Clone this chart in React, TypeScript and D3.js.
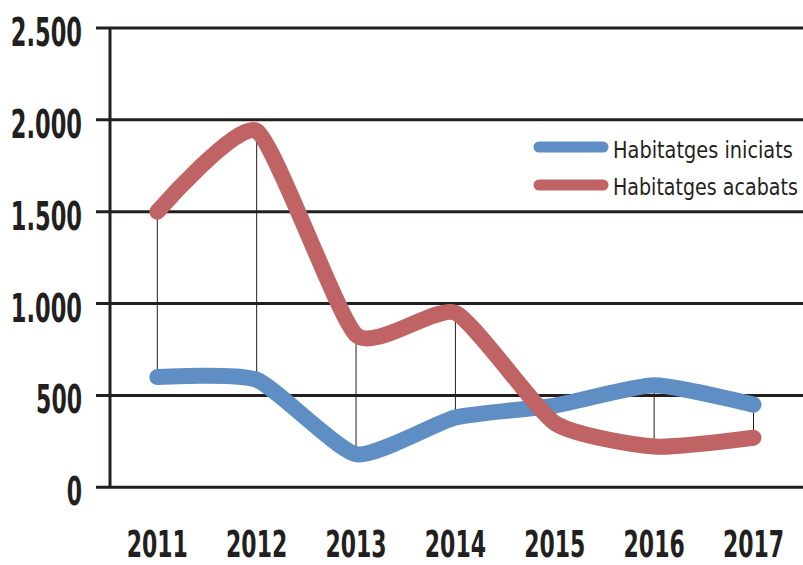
import React, { useLayoutEffect, useRef, useState } from "react";
import * as d3 from "d3";

const years = ["2011", "2012", "2013", "2014", "2015", "2016", "2017"];
const iniciats = [600, 585, 180, 380, 445, 555, 450];
const acabats = [1500, 1940, 830, 950, 350, 222, 270];
const yTicks = [0, 500, 1000, 1500, 2000, 2500];
const seriesNames = ["Habitatges iniciats", "Habitatges acabats"];
const seriesColors = ["#5e8ec4", "#c06364"];

const W = 803;
const H = 565;

const fmt = (v: number) => d3.format(",")(v).replace(/,/g, ".");

function FitText({
  x,
  y,
  width,
  children,
  fontSize,
}: {
  x: number;
  y: number;
  width: number;
  children: string;
  fontSize: number;
}) {
  const ref = useRef<SVGTextElement>(null);
  const [sx, setSx] = useState(1);
  useLayoutEffect(() => {
    if (ref.current) {
      const len = ref.current.getComputedTextLength();
      if (len > 0) setSx(width / len);
    }
  }, [width, children]);
  return (
    <g transform={`translate(${x}, ${y}) scale(${sx}, 1)`}>
      <text
        ref={ref}
        x={0}
        y={0}
        fontFamily='"DejaVu Sans", sans-serif'
        fontSize={fontSize}
        fill="#231f20"
      >
        {children}
      </text>
    </g>
  );
}

export default function App() {
  const x = d3.scalePoint<string>().domain(years).range([157.3, 753.5]);
  const y = d3.scaleLinear().domain([0, 2500]).range([487.3, 28]);
  const line = d3
    .line<number>()
    .x((_, i) => x(years[i]) as number)
    .y((d) => y(d))
    .curve(d3.curveCardinal.tension(0.45));

  const labelFont = '"DejaVu Sans Condensed", "Liberation Sans Narrow", sans-serif';
  const textLen = (s: string) => {
    const digits = s.replace(/[^0-9]/g, "").length;
    const dots = s.length - digits;
    return digits * 15.3 + dots * 10;
  };

  return (
    <svg
      width={W}
      height={H}
      style={{ position: "absolute", left: 0, top: 0, background: "#fff" }}
    >
      {yTicks.map((t) => (
        <line
          key={"g" + t}
          x1={96}
          x2={W}
          y1={y(t)}
          y2={y(t)}
          stroke="#231f20"
          strokeWidth={3}
        />
      ))}
      <line x1={110} x2={110} y1={y(2500)} y2={y(0)} stroke="#231f20" strokeWidth={3} />
      {yTicks.map((t) => (
        <g key={"yl" + t} transform={`translate(82, ${y(t) + 18}) scale(1, 1.12)`}>
          <text
            x={0}
            y={0}
            textAnchor="end"
            fontFamily={labelFont}
            fontWeight="bold"
            fontSize={35}
            fill="#231f20"
            textLength={textLen(fmt(t))}
            lengthAdjust="spacingAndGlyphs"
          >
            {fmt(t)}
          </text>
        </g>
      ))}
      {years.map((yr) => (
        <g key={"xl" + yr} transform={`translate(${x(yr) as number}, 557) scale(1, 1.15)`}>
          <text
            x={0}
            y={0}
            textAnchor="middle"
            fontFamily={labelFont}
            fontWeight="bold"
            fontSize={32}
            fill="#231f20"
            textLength={textLen(yr)}
            lengthAdjust="spacingAndGlyphs"
          >
            {yr}
          </text>
        </g>
      ))}
      {years.map((yr, i) => (
        <line
          key={"d" + yr}
          x1={x(yr) as number}
          x2={x(yr) as number}
          y1={y(iniciats[i])}
          y2={y(acabats[i])}
          stroke="#231f20"
          strokeWidth={1}
        />
      ))}
      {[iniciats, acabats].map((s, k) => (
        <path
          key={"s" + k}
          d={line(s) || ""}
          fill="none"
          stroke={seriesColors[k]}
          strokeWidth={16}
          strokeLinecap="round"
          strokeLinejoin="round"
        />
      ))}
      {seriesNames.map((n, k) => (
        <g key={"lg" + k}>
          <line
            x1={539}
            x2={603}
            y1={147 + k * 38}
            y2={147 + k * 38}
            stroke={seriesColors[k]}
            strokeWidth={11}
            strokeLinecap="round"
          />
          <FitText x={613} y={158 + k * 37} width={k === 0 ? 180 : 185} fontSize={23}>
            {n}
          </FitText>
        </g>
      ))}
    </svg>
  );
}
